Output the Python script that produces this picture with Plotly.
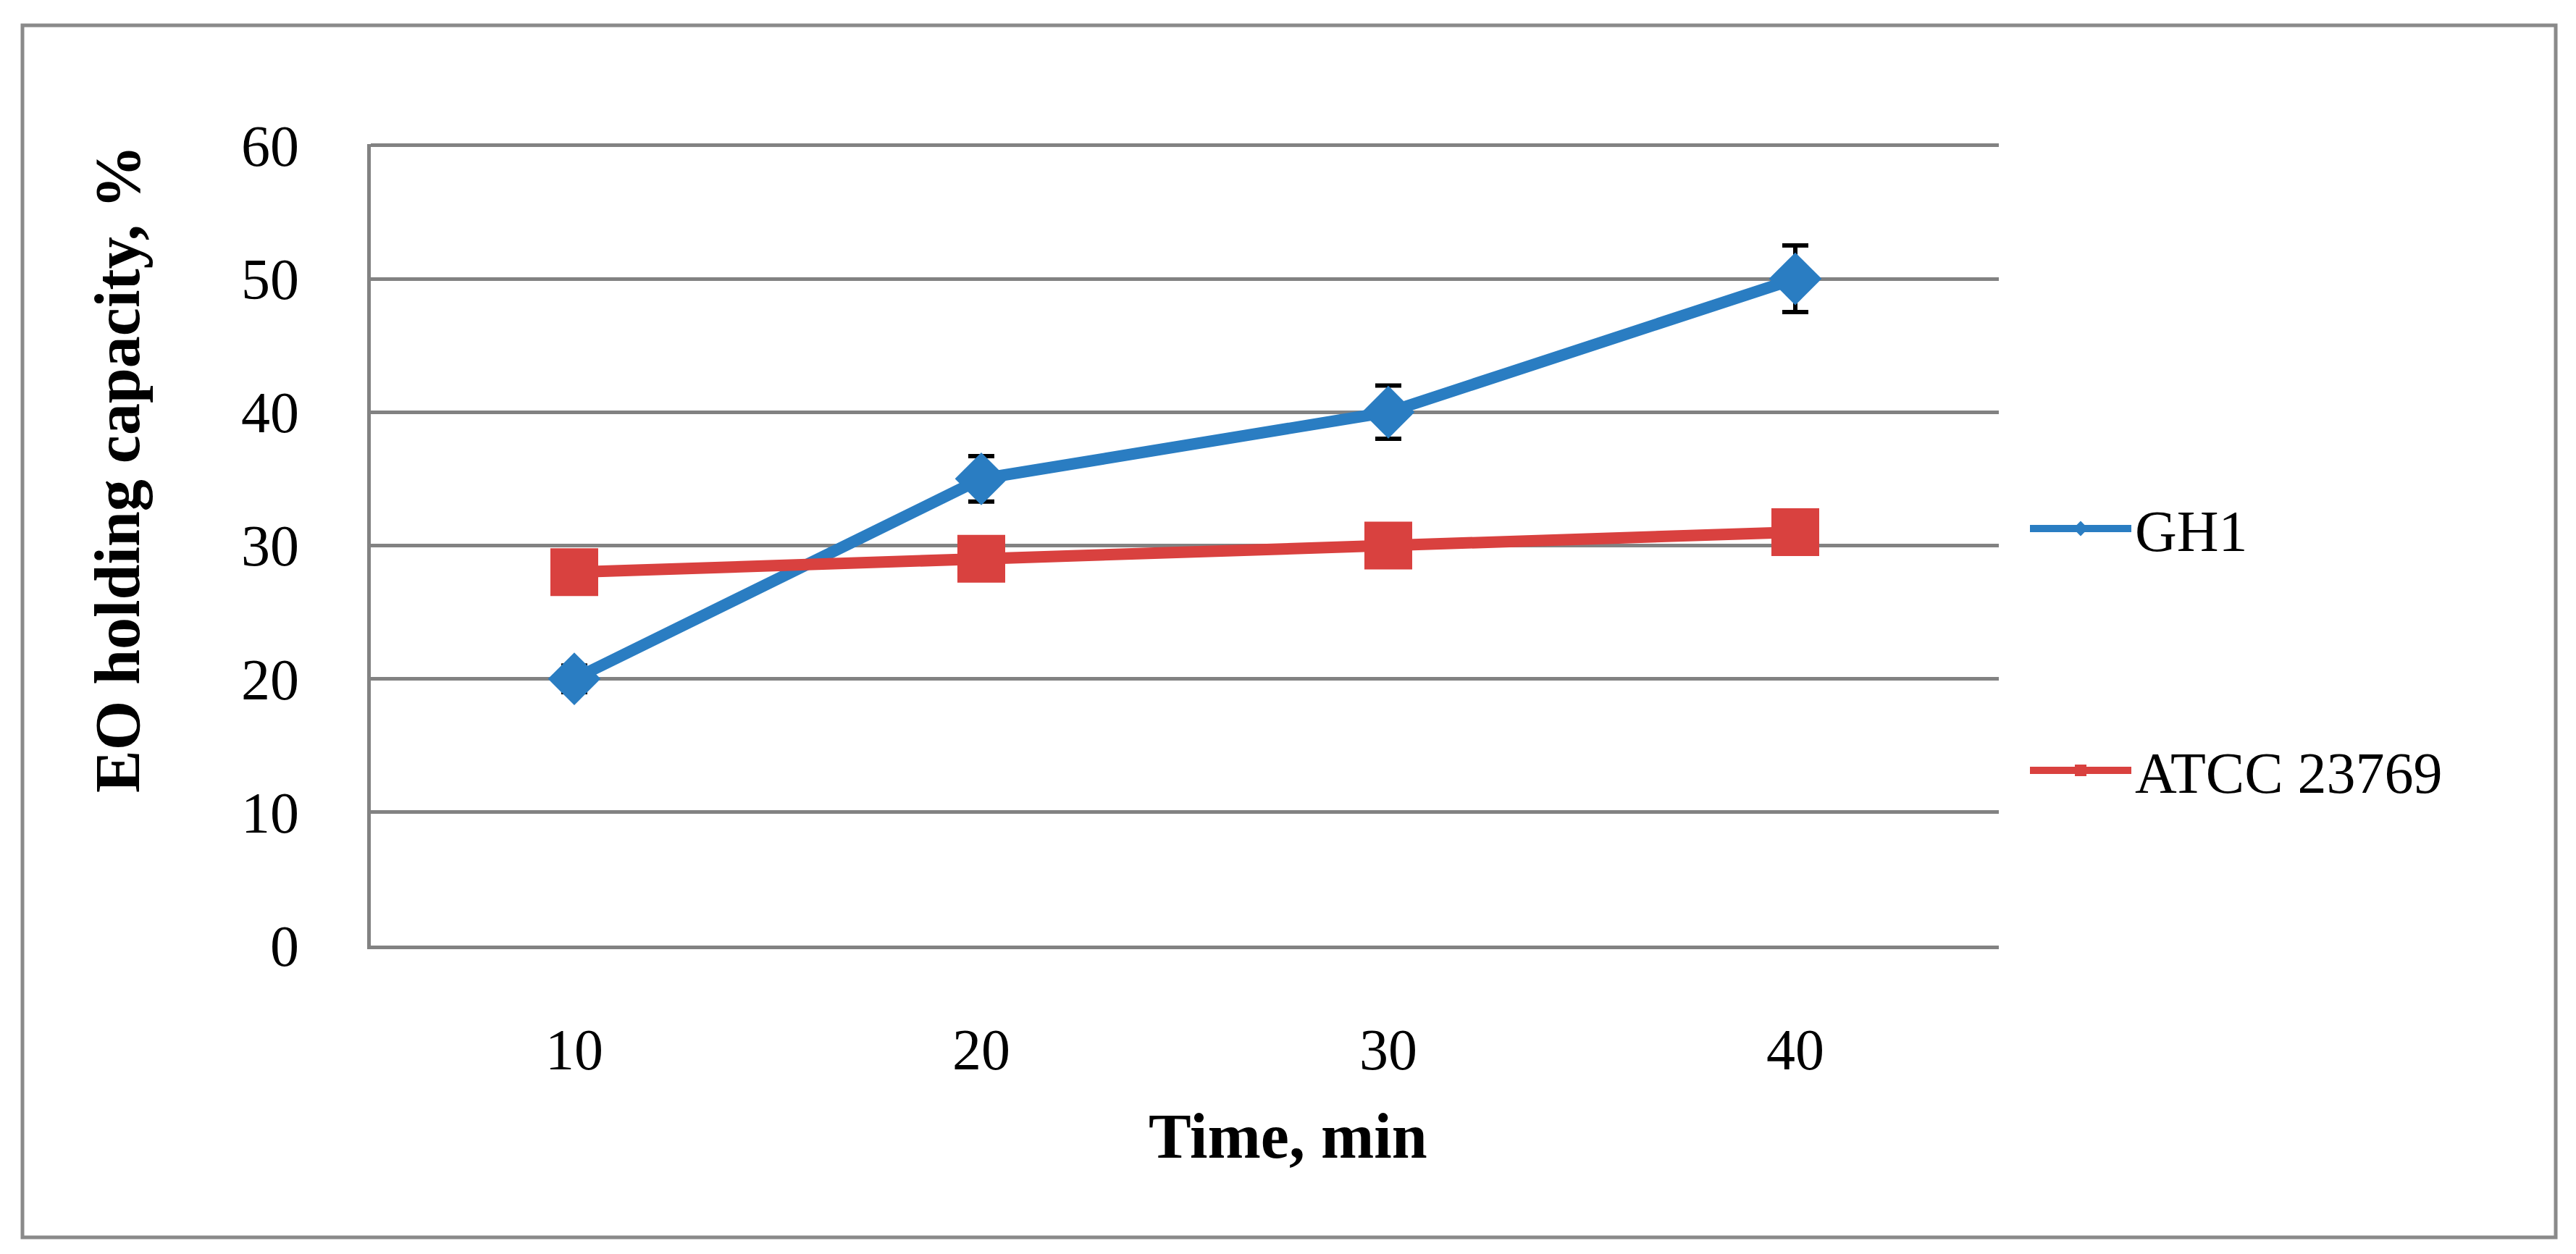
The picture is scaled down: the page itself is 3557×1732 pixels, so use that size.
import plotly.graph_objects as go

# ---- data ----
time_min = [10, 20, 30, 40]
gh1 = [20, 35, 40, 50]
gh1_err = [1.0, 1.7, 2.0, 2.5]
atcc = [28, 29, 30, 31]
y_ticks = [0, 10, 20, 30, 40, 50, 60]

BLUE = "#2a7dc2"
RED = "#d9413f"
GRID = "#828282"

W, H = 3557, 1732
L, R, T, B = 504, 2752, 191, 1298
PW, PH = R - L, B - T
Y_TOP = 60.1


def px(x):
    return (x - L) / PW


def py(y):
    return (B - y) / PH


fig = go.Figure()
fig.add_trace(go.Scatter(
    x=time_min, y=gh1, name="GH1", mode="lines+markers",
    line=dict(color=BLUE, width=16),
    marker=dict(symbol="diamond", size=56, color=BLUE),
    error_y=dict(type="data", array=gh1_err, visible=True, color="black",
                 thickness=6, width=18),
    legend="legend",
))
fig.add_trace(go.Scatter(
    x=time_min, y=atcc, name="ATCC 23769", mode="lines+markers",
    line=dict(color=RED, width=16),
    marker=dict(symbol="square", size=66, color=RED),
    legend="legend2",
))

font_tick = dict(family="Liberation Serif, Times New Roman, serif", size=80, color="black")

fig.update_layout(
    width=W, height=H,
    margin=dict(l=L, r=W - R, t=T, b=H - B, pad=0),
    paper_bgcolor="white", plot_bgcolor="white",
    showlegend=True,
    legend=dict(x=px(2790), y=py(722), xanchor="left", yanchor="middle",
                font=font_tick, itemwidth=140, bgcolor="rgba(0,0,0,0)"),
    legend2=dict(x=px(2790), y=py(1056), xanchor="left", yanchor="middle",
                 font=font_tick, itemwidth=140, bgcolor="rgba(0,0,0,0)"),
    xaxis=dict(range=[5, 45], tickvals=time_min, ticktext=[str(t) for t in time_min],
               showgrid=False, zeroline=False, showline=True, linecolor=GRID, linewidth=5,
               ticks="", tickfont=font_tick, ticklabelstandoff=70),
    yaxis=dict(range=[0, Y_TOP], tickvals=y_ticks, showgrid=True, gridcolor=GRID, gridwidth=5,
               zeroline=False, showline=True, linecolor=GRID, linewidth=5,
               ticks="", tickfont=font_tick, ticklabelstandoff=78),
    annotations=[
        dict(text="<b>Time, min</b>", xref="paper", yref="paper", x=px(1770), y=py(1561),
             xanchor="center", yanchor="middle", showarrow=False,
             font=dict(family="Liberation Serif, Times New Roman, serif", size=88, color="black")),
        dict(text="<b>EO holding capacity, %</b>", xref="paper", yref="paper", x=px(154), y=py(640),
             xanchor="center", yanchor="middle", showarrow=False, textangle=-90,
             font=dict(family="Liberation Serif, Times New Roman, serif", size=88, color="black")),
    ],
    shapes=[
        dict(type="rect", xref="paper", yref="paper", x0=px(23), x1=px(3521), y0=py(1701), y1=py(27),
             line=dict(color="#8a8a8a", width=5), fillcolor="rgba(0,0,0,0)", layer="below"),
    ],
)

fig.write_html("out.html")
